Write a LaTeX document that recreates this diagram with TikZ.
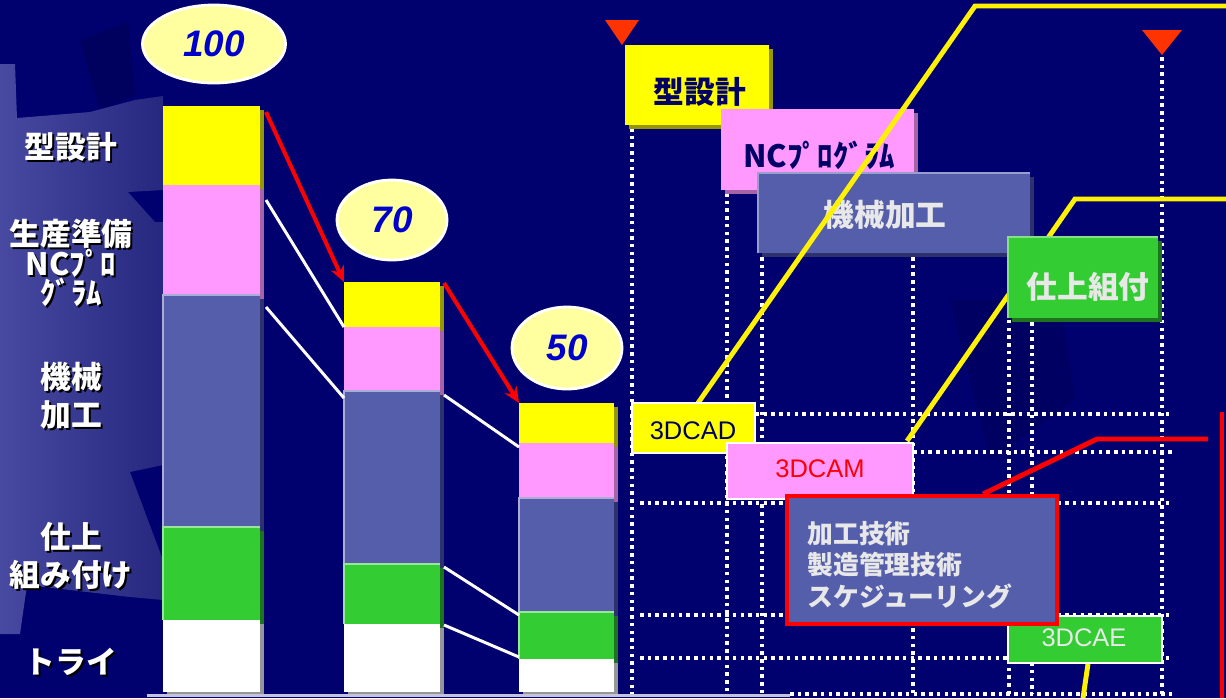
\documentclass[tikz,border=0pt]{standalone}
\usepackage{fontspec}
\setmainfont{Liberation Sans}
\newfontfamily\jp{Noto Sans CJK JP}
\usetikzlibrary{shapes.geometric,fit,shadows,arrows.meta,calc}
\newdimen\upx \upx=0.02cm
\definecolor{bgnavy}{RGB}{0,0,110}
\definecolor{panelL}{RGB}{72,74,162}
\definecolor{panelR}{RGB}{38,40,128}
\definecolor{cY}{RGB}{255,255,0}
\definecolor{cYs}{RGB}{150,150,0}
\definecolor{cP}{RGB}{255,153,255}
\definecolor{cPs}{RGB}{165,100,165}
\definecolor{cB}{RGB}{85,94,170}
\definecolor{cBs}{RGB}{45,50,110}
\definecolor{cG}{RGB}{51,204,51}
\definecolor{cGs}{RGB}{30,115,30}
\definecolor{cWs}{RGB}{150,150,150}
\definecolor{elfill}{RGB}{255,255,160}
\definecolor{numblue}{RGB}{0,0,204}
\definecolor{txnavy}{RGB}{0,0,102}
\definecolor{txlight}{RGB}{232,232,232}
\definecolor{tri}{RGB}{255,51,0}
\definecolor{basegrey}{RGB}{195,195,220}
\tikzset{
  seg/.style={inner sep=0pt, outer sep=0pt, draw=none},
  shd/.style={general shadow={fill=#1, shadow xshift=4\upx, shadow yshift=-4\upx}},
  jplab/.style={text=white, align=center, font=\jp\bfseries\fontsize{17.5pt}{#1}\selectfont},
  jpshadow/.style={text=black, align=center, font=\jp\bfseries\fontsize{17.5pt}{#1}\selectfont},
  numel/.style={ellipse, fill=elfill, draw=white, line width=1.6pt, inner sep=0pt,
    text=numblue, font=\bfseries\itshape\fontsize{21pt}{21pt}\selectfont},
  wline/.style={white, line width=1.7pt},
  redarrow/.style={red, line width=2.3pt, -{Stealth[length=9pt,width=8pt]}},
  dotl/.style={white, line width=1.9pt, dash pattern=on 2pt off 2.4pt},
  topbox/.style={seg},
  toptext/.style={inner sep=0pt, font=\jp\bfseries\fontsize{17.5pt}{17.5pt}\selectfont},
  lowbox/.style={inner sep=0pt, outer sep=0pt, draw=white, line width=1.3pt},
  lowtext/.style={inner sep=0pt, font=\fontsize{14.5pt}{14.5pt}\selectfont},
  yline/.style={yellow, line width=2.8pt},
  rline/.style={red, line width=2.8pt},
}
\begin{document}
\begin{tikzpicture}[x=0.02cm, y=-0.02cm]
\useasboundingbox (0,0) rectangle (1226,698);
\fill[bgnavy] (0,0) rectangle (1226,698);
% subtle background shapes
\fill[black!15!bgnavy] (80,40) -- (128,22) -- (135,95) -- (100,110) -- cycle;
\fill[black!10!bgnavy] (950,300) -- (1060,300) -- (1075,400) -- (990,460) -- cycle;
% left panel
\shade[left color=panelL, right color=panelR]
  (0,64) -- (15,64) -- (17,118) -- (90,112) -- (135,100) -- (163,96) -- (163,190)
  -- (128,192) -- (155,222) -- (163,222) -- (163,465) -- (130,472) -- (163,560)
  -- (163,600) -- (130,597) -- (27,585) -- (20,634) -- (0,634) -- cycle;

% ---- left labels
\node[jpshadow=17.5pt] at (73,149) {型設計};
\node[jplab=17.5pt] (lab1) at (71,147) {型設計};
\node[jpshadow=17pt] at (73,265) {生産準備\\NCﾌﾟﾛ\\ｸﾞﾗﾑ};
\node[jplab=17pt] (lab2) at (71,263) {生産準備\\NCﾌﾟﾛ\\ｸﾞﾗﾑ};
\node[jpshadow=21.5pt] at (73,398) {機械\\加工};
\node[jplab=21.5pt] (lab3) at (71,396) {機械\\加工};
\node[jpshadow=22pt] at (73,558) {仕上\\組み付け};
\node[jplab=22pt] (lab4) at (71,556) {仕上\\組み付け};
\node[jpshadow=17.5pt] at (73,664) {トライ};
\node[jplab=17.5pt] (lab5) at (71,662) {トライ};

% ---- bars
\node[seg, fill=cY, shd=cYs, fit={(163,106)(260,185)}] (b1y) {};
\node[seg, fill=cP, shd=cPs, fit={(163,185)(260,295)}] (b1p) {};
\node[seg, fill=cB, shd=cBs, fit={(163,295)(260,527)}] (b1b) {};
\node[seg, fill=cG, shd=cGs, fit={(163,527)(260,620)}] (b1g) {};
\node[seg, fill=white, shd=cWs, fit={(163,620)(260,692)}] (b1w) {};

\node[seg, fill=cY, shd=cYs, fit={(344,282)(440,327)}] (b2y) {};
\node[seg, fill=cP, shd=cPs, fit={(344,327)(440,391)}] (b2p) {};
\node[seg, fill=cB, shd=cBs, fit={(344,391)(440,564)}] (b2b) {};
\node[seg, fill=cG, shd=cGs, fit={(344,564)(440,624)}] (b2g) {};
\node[seg, fill=white, shd=cWs, fit={(344,624)(440,692)}] (b2w) {};

\node[seg, fill=cY, shd=cYs, fit={(519,403)(614,443)}] (b3y) {};
\node[seg, fill=cP, shd=cPs, fit={(519,443)(614,498)}] (b3p) {};
\node[seg, fill=cB, shd=cBs, fit={(519,498)(614,612)}] (b3b) {};
\node[seg, fill=cG, shd=cGs, fit={(519,612)(614,659)}] (b3g) {};
\node[seg, fill=white, shd=cWs, fit={(519,659)(614,692)}] (b3w) {};

% highlight edges on bars
\foreach \n in {b1b,b2b,b3b}
  \draw[cB!50!white, line width=1pt] (\n.south west) -- (\n.north west) -- (\n.north east);
\foreach \n in {b1g,b2g,b3g}
  \draw[cG!50!white, line width=1pt] (\n.south west) -- (\n.north west) -- (\n.north east);

% baseline
\coordinate (base0) at (147,695);
\coordinate (base1) at (790,695);
\draw[basegrey, line width=1.7pt] (base0) -- (base1);

% ---- white connectors
\coordinate (w1) at (266,200);
\coordinate (w2) at (266,307);
\coordinate (w2e) at (344,398);
\coordinate (w3) at (444,395);
\coordinate (w3e) at (519,447);
\coordinate (w4) at (444,567);
\coordinate (w4e) at (519,615);
\coordinate (w5) at (444,625);
\coordinate (w5e) at (519,657);
\draw[wline] (w1) -- (b2p.north west);
\draw[wline] (w2) -- (w2e);
\draw[wline] (w3) -- (w3e);
\draw[wline] (w4) -- (w4e);
\draw[wline] (w5) -- (w5e);

% ---- red arrows
\coordinate (a1) at (266,112);
\coordinate (a2) at (444,283);
\draw[redarrow] (a1) -- (b2y.north west);
\draw[redarrow] (a2) -- (b3y.north west);

% ---- ellipses
\node[numel, minimum width=143\upx, minimum height=78\upx] (e100) at (214,44) {100};
\node[numel, minimum width=110\upx, minimum height=80\upx] (e70) at (392,220) {70};
\node[numel, minimum width=110\upx, minimum height=82\upx] (e50) at (567,348) {50};

% ---- dotted grid
\coordinate (v1a) at (632,128); \coordinate (v1b) at (632,694);
\coordinate (v2a) at (727,193); \coordinate (v2b) at (727,694);
\coordinate (v3a) at (762,257); \coordinate (v3b) at (762,694);
\coordinate (v4a) at (913,257); \coordinate (v4b) at (913,694);
\coordinate (v5a) at (1009,258); \coordinate (v5b) at (1009,694);
\coordinate (v6a) at (1032,322); \coordinate (v6b) at (1032,694);
\coordinate (v7a) at (1162,57); \coordinate (v7b) at (1162,694);
\foreach \a/\b in {v1a/v1b,v2a/v2b,v3a/v3b,v4a/v4b,v5a/v5b,v6a/v6b,v7a/v7b}
  \draw[dotl] (\a) -- (\b);
\coordinate (h1a) at (640,414); \coordinate (h1b) at (1173,414);
\coordinate (h2a) at (913,452); \coordinate (h2b) at (1173,452);
\coordinate (h3a) at (640,503); \coordinate (h3b) at (1173,503);
\coordinate (h4a) at (640,615); \coordinate (h4b) at (1173,615);
\coordinate (h5a) at (640,658); \coordinate (h5b) at (1173,658);
\coordinate (h6a) at (790,694); \coordinate (h6b) at (1173,694);
\foreach \a/\b in {h1a/h1b,h2a/h2b,h3a/h3b,h4a/h4b,h5a/h5b,h6a/h6b}
  \draw[dotl] (\a) -- (\b);

% ---- top schedule boxes
\node[topbox, fill=cY, shd=cYs, fit={(625,45)(769,125)}] (t1) {};
\node[toptext, text=txnavy] (t1txt) at (700,92) {型設計};
\node[topbox, fill=cP, shd=cPs, fit={(721,109)(914,190)}] (t2) {};
\node[toptext, text=txnavy] (t2txt) at (819,155) {NCﾌﾟﾛｸﾞﾗﾑ};
\node[topbox, fill=cB, shd=cBs, fit={(758,173)(1030,253)}] (t3) {};
\draw[cB!60!white, line width=1.2pt] (t3.south west) -- (t3.north west) -- (t3.north east);
\node[toptext, text=txlight] (t3txt) at (885,215) {機械加工};

% yellow leader lines
\coordinate (y1a) at (698,403);
\coordinate (y1b) at (975,6);
\coordinate (y1c) at (1226,6);
\draw[yline] (y1a) -- (y1b) -- (y1c);
\coordinate (y2a) at (907,441);
\coordinate (y2b) at (1075,199);
\coordinate (y2c) at (1226,199);
\draw[yline] (y2a) -- (y2b) -- (y2c);

\node[topbox, fill=cG, shd=cGs, fit={(1008,237)(1158,318)}] (t4) {};
\draw[cG!60!white, line width=1.2pt] (t4.south west) -- (t4.north west) -- (t4.north east);
\node[toptext, text=txlight] (t4txt) at (1088,287) {仕上組付};

% triangles
\fill[tri] (605,20) -- (639,20) -- (622,45) -- cycle;
\fill[tri] (1142,30) -- (1182,30) -- (1162,55) -- cycle;

% ---- lower boxes
\node[lowbox, fill=cY, fit={(632,403)(755,453)}] (cad) {};
\node[lowtext, text=txnavy] (cadtxt) at (693,431) {3DCAD};
\node[lowbox, fill=cP, fit={(727,443)(913,499)}] (cam) {};
\node[lowtext, text=red] (camtxt) at (820,469) {3DCAM};
\node[lowbox, fill=cG, fit={(1008,616)(1162,663)}] (cae) {};
\node[lowtext, text=txlight] (caetxt) at (1084,638) {3DCAE};
\node[seg, fill=cB, draw=red, line width=2.8pt, fit={(787,496)(1057,624)}] (rb) {};
\node[anchor=west, inner sep=0pt, text=txlight, align=left,
      font=\jp\bfseries\fontsize{14.7pt}{18pt}\selectfont] (rbtext) at (807,565)
      {加工技術\\製造管理技術\\スケジューリング};

% red leader
\coordinate (r0) at (983,494);
\coordinate (r1) at (1097,439);
\coordinate (r2) at (1208,439);
\draw[rline] (r0) -- (r1) -- (r2);
\coordinate (rv1) at (1222,412);
\coordinate (rv2) at (1222,698);
\draw[rline] (rv1) -- (rv2);

% yellow below 3DCAE
\coordinate (y3a) at (1088,664);
\coordinate (y3b) at (1083,698);
\draw[yline] (y3a) -- (y3b);
\end{tikzpicture}
\end{document}
